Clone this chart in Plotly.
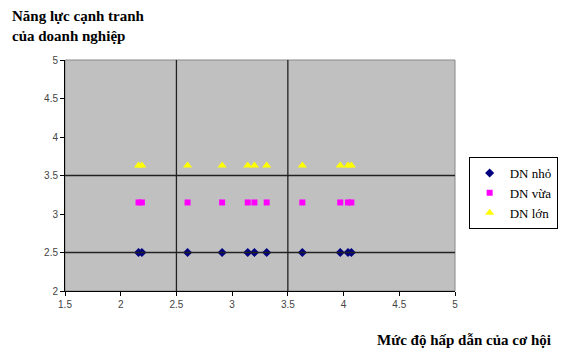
import plotly.graph_objects as go

x_vals = [2.16, 2.19, 2.60, 2.91, 3.14, 3.20, 3.31, 3.63, 3.97, 4.04, 4.07]
y_nho = [2.5] * 11
y_vua = [3.15] * 11
y_lon = [3.63] * 11
series_names = ["DN nhỏ", "DN vừa", "DN lớn"]
thresholds = [2.5, 3.5]

fig = go.Figure()
fig.add_trace(go.Scatter(x=x_vals, y=y_nho, mode="markers", name=series_names[0],
                         marker=dict(symbol="diamond", color="#000080", size=7)))
fig.add_trace(go.Scatter(x=x_vals, y=y_vua, mode="markers", name=series_names[1],
                         marker=dict(symbol="square", color="#FF00FF", size=6)))
fig.add_trace(go.Scatter(x=x_vals, y=y_lon, mode="markers", name=series_names[2],
                         marker=dict(symbol="triangle-up", color="#FFFF00", size=8)))

for t in thresholds:
    fig.add_shape(type="line", x0=t, x1=t, y0=2, y1=5, xref="x", yref="y",
                  line=dict(color="#222222", width=1.3))
    fig.add_shape(type="line", x0=1.5, x1=5, y0=t, y1=t, xref="x", yref="y",
                  line=dict(color="#222222", width=1.3))

tickfont = dict(family="Liberation Sans, Arial", size=10, color="#444444")
fig.update_xaxes(range=[1.5, 5], tickvals=[1.5, 2, 2.5, 3, 3.5, 4, 4.5, 5],
                 ticktext=["1.5", "2", "2.5", "3", "3.5", "4", "4.5", "5"],
                 showgrid=False, zeroline=False, showline=True, linecolor="#000000",
                 linewidth=1, ticks="outside", ticklen=4, tickcolor="#000000",
                 tickfont=tickfont, mirror=False)
fig.update_yaxes(range=[2, 5], tickvals=[2, 2.5, 3, 3.5, 4, 4.5, 5],
                 ticktext=["2", "2.5", "3", "3.5", "4", "4.5", "5"],
                 showgrid=False, zeroline=False, showline=True, linecolor="#000000",
                 linewidth=1, ticks="outside", ticklen=4, tickcolor="#000000",
                 tickfont=tickfont)

# right/top border
fig.add_shape(type="rect", x0=0, x1=1, y0=0, y1=1, xref="paper", yref="paper",
              line=dict(color="#888888", width=1), layer="below")

fig.add_annotation(text="<b>Năng lực cạnh tranh<br>của doanh nghiệp</b>", xref="paper", yref="paper",
                   x=-0.142, y=1.235, xanchor="left", yanchor="top", showarrow=False, align="left",
                   font=dict(family="Liberation Serif, Times New Roman", size=15, color="#000000"))
fig.add_annotation(text="<b>Mức độ hấp dẫn của cơ hội</b>", xref="paper", yref="paper",
                   x=1.25, y=-0.17, xanchor="right", yanchor="top", showarrow=False,
                   font=dict(family="Liberation Serif, Times New Roman", size=15, color="#000000"))

fig.update_layout(
    width=565, height=354,
    margin=dict(l=65, r=110, t=60, b=63, autoexpand=False),
    paper_bgcolor="#ffffff", plot_bgcolor="#c0c0c0",
    showlegend=True,
    legend=dict(x=1.035, y=0.58, xanchor="left", yanchor="top",
                bgcolor="#ffffff", bordercolor="#000000", borderwidth=1,
                font=dict(family="Liberation Serif, Times New Roman", size=13, color="#000000"),
                itemwidth=30, tracegroupgap=0),
)

fig.write_html("out.html")
